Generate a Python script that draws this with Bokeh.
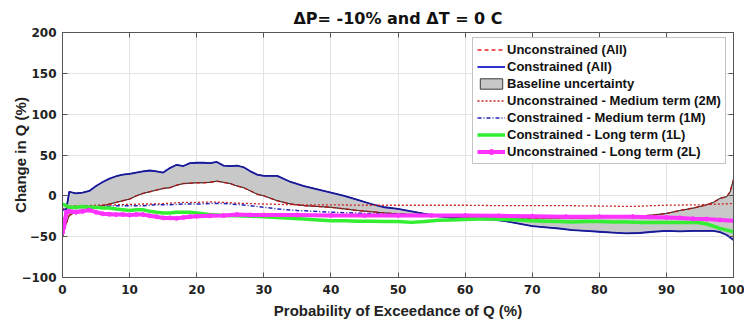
from bokeh.plotting import figure
from bokeh.models import Range1d, LinearAxis, FixedTicker, Legend, LegendItem
from bokeh.embed import file_html
from bokeh.resources import INLINE

# Probability of exceedance grid shared by the two "All" envelopes
x_all = [0, 0.5, 1, 2, 3, 4, 5, 6, 7, 8, 9, 10, 11, 12, 13, 14, 15, 16, 17, 18, 19,
         20, 21, 22, 23, 24, 25, 26, 27, 28, 29, 30, 32, 34, 36, 38, 40, 42, 44, 46,
         48, 50, 52, 54, 56, 58, 60, 62, 64, 66, 68, 70, 72, 74, 76, 78, 80, 82, 84,
         86, 88, 90, 92, 94, 96, 97, 98, 99, 99.5, 100]
constrained_all = [-48, -20, 5, 3, 4, 6, 12, 17, 21, 24, 26, 27, 28.5, 30, 31, 30, 28.5,
                   34, 38, 36.5, 40, 40.5, 40.5, 40, 41.5, 37, 36.5, 37, 35, 30, 26, 24.5,
                   24.5, 17, 12, 8, 4, 0, -5, -10, -14, -16, -19, -22, -25, -27, -28,
                   -28.5, -29, -31, -34, -37, -38.5, -40, -42, -43, -44, -45, -46, -45.5,
                   -44, -43, -43.5, -43, -43, -43, -44.5, -48, -51, -54]
unconstrained_all = [-50, -35, -24, -20, -17, -16, -14, -12, -10, -8, -6, -4, 0, 3, 5, 7,
                     9, 10, 13, 15, 15.5, 16, 16, 16.5, 18, 16.5, 15, 12, 10, 6, 2, 0, -6,
                     -10, -12, -13, -14, -16, -18, -19.5, -21, -22, -23, -24, -25, -25.5,
                     -26, -26, -26.5, -27, -27, -27, -27, -27, -27, -27, -26.5, -26, -25.5,
                     -25, -23.5, -21.5, -18, -15, -11, -8, -3, -1, 5, 20]

# Unconstrained - Medium term (2M)
x_2m = [0, 1, 2, 4, 6, 8, 10, 12, 14, 16, 18, 20, 22, 24, 26, 28, 30, 35, 40, 45, 50, 55,
        60, 65, 70, 75, 80, 85, 88, 90, 95, 98, 100]
unc_2m = [-16, -13, -12, -12, -11, -11, -10.5, -10, -10, -9, -8, -8, -7.5, -8, -9, -9.5,
          -10, -11, -11, -11.5, -11.5, -11.5, -11.5, -12, -12, -12, -12.5, -13, -12, -11.5,
          -11, -10, -9.5]

# Constrained - Medium term (1M)
x_1m = [0, 1, 2, 4, 6, 8, 10, 12, 14, 16, 18, 20, 22, 24, 26, 28, 30, 32, 35, 40, 45, 50,
        55, 60, 65, 70, 75, 80, 85, 90, 95, 100]
con_1m = [-18, -14, -14, -13, -13, -12, -12, -12, -11, -11, -10, -10, -9.5, -9.5, -10.5,
          -12, -14, -16, -18, -20, -21.5, -23, -24, -24.5, -25, -25, -25.5, -26, -26, -27,
          -28, -30]

# Constrained - Long term (1L)
x_1l = [0, 0.5, 1, 2, 3, 4, 5, 6, 7, 8, 9, 10, 11, 12, 13, 14, 15, 16, 17, 18, 19, 20, 21,
        22, 24, 26, 28, 30, 32, 34, 36, 38, 40, 42, 44, 46, 48, 50, 52, 54, 56, 58, 60, 62,
        64, 66, 68, 70, 72, 74, 76, 78, 80, 82, 84, 86, 88, 90, 92, 94, 95, 96, 97, 98, 99,
        100]
con_1l = [-10, -12, -14, -14, -13, -14, -14, -15, -15, -16, -17, -18, -17, -17, -19, -20,
          -21, -21, -20, -20, -20, -21, -22, -23, -24, -24.5, -25, -25.5, -26.5, -27.5,
          -28.5, -29.5, -30.5, -30.5, -31, -31, -31.5, -31.5, -32.5, -31.5, -30, -29.5, -29,
          -28.5, -28.5, -29, -29.5, -30.5, -31, -31.5, -32, -31.5, -31.5, -32, -32, -32.5,
          -32.5, -32.5, -32.5, -32.5, -33, -34.5, -37, -40, -42, -44]

# Unconstrained - Long term (2L)
x_2l = [0, 0.2, 0.4, 0.6, 1, 2, 3, 4, 5, 6, 7, 8, 9, 10, 11, 12, 13, 14, 15, 16, 17, 18,
        19, 20, 22, 24, 26, 28, 30, 35, 40, 45, 50, 55, 60, 65, 70, 75, 80, 85, 90, 92, 94,
        96, 98, 100]
unc_2l = [-45, -38, -28, -20, -19, -20, -19, -17.5, -20, -22, -22.5, -23, -23, -23.5, -23,
          -23, -24.5, -25.5, -27, -27, -27.5, -26.5, -25.5, -25, -24.5, -24, -23, -23.5,
          -23.5, -23.5, -24, -24, -24, -24, -24, -24.5, -25, -25.5, -25.5, -25.5, -26.5,
          -27, -28, -28.5, -29.5, -30.5]

x_ticks = [0, 10, 20, 30, 40, 50, 60, 70, 80, 90, 100]
y_ticks = [-100, -50, 0, 50, 100, 150, 200]

LABEL_FONT = "Liberation Sans"
TICK_FONT = "DejaVu Sans"

p = figure(width=744, height=325, output_backend="svg", toolbar_location=None,
           x_range=Range1d(0, 100), y_range=Range1d(-100, 200),
           min_border_left=62, min_border_right=11, min_border_top=32,
           min_border_bottom=48, title="ΔP= -10% and ΔT = 0 C")
p.title.align = "center"
p.title.text_font = TICK_FONT
p.title.text_font_size = "16px"
p.title.text_font_style = "bold"
p.title.text_color = "#111111"
p.outline_line_color = None
p.background_fill_color = "white"

for ax in (p.xaxis[0], p.yaxis[0]):
    ax.major_tick_in = 5
    ax.major_tick_out = 0
    ax.minor_tick_line_color = None
    ax.axis_line_color = "#555555"
    ax.major_tick_line_color = "#555555"
    ax.major_label_text_font = TICK_FONT
    ax.major_label_text_font_size = "12px"
    ax.major_label_text_font_style = "bold"
    ax.major_label_text_color = "#222222"
    ax.axis_label_text_font = LABEL_FONT
    ax.axis_label_text_font_size = "15px"
    ax.axis_label_text_font_style = "bold"
    ax.axis_label_text_color = "#222222"

p.xaxis.ticker = FixedTicker(ticks=x_ticks)
p.yaxis.ticker = FixedTicker(ticks=y_ticks)
p.xaxis.axis_label = "Probability of Exceedance of Q (%)"
p.yaxis.axis_label = "Change in Q (%)"
p.xaxis.major_label_standoff = 7
p.yaxis.major_label_standoff = 6
p.xaxis.axis_label_standoff = 5
p.yaxis.axis_label_standoff = -11

# box axes on top and right, ticks only
for side, ticks in (("above", x_ticks), ("right", y_ticks)):
    ax = LinearAxis(ticker=FixedTicker(ticks=ticks), major_tick_in=5, major_tick_out=0,
                    minor_tick_line_color=None, axis_line_color="#555555",
                    major_tick_line_color="#555555", major_label_text_font_size="0px",
                    major_label_standoff=0)
    p.add_layout(ax, side)

p.xgrid.ticker = FixedTicker(ticks=x_ticks)
p.ygrid.ticker = FixedTicker(ticks=y_ticks)
p.grid.grid_line_color = "#e3e3e3"
p.grid.grid_line_width = 1

# shaded envelope between the constrained and unconstrained runs
env_x = x_all + x_all[::-1]
env_y = constrained_all + unconstrained_all[::-1]
r_env = p.patch(env_x, env_y, fill_color="#c8c8c8", line_color="#3a3a3a", line_width=1)

r_unc = p.line(x_all, unconstrained_all, line_color="#ee2222", line_width=1.5,
               line_dash="4 3")
r_con = p.line(x_all, constrained_all, line_color="#1a1acc", line_width=1.8)
p.line(x_all, unconstrained_all, line_color="#402020", line_width=1, line_alpha=0.6)
p.line(x_all, constrained_all, line_color="#1c1c40", line_width=1, line_alpha=0.6)

r_2m = p.line(x_2m, unc_2m, line_color="#cc2222", line_width=1.3, line_dash="2 2")
r_1m = p.line(x_1m, con_1m, line_color="#2222bb", line_width=1.5, line_dash="4 2 1 2")
r_1l = p.line(x_1l, con_1l, line_color="#33ee33", line_width=3.5)
r_2l = p.line(x_2l, unc_2l, line_color="#ff33ff", line_width=4)
r_2l_pts = p.scatter(x_2l, unc_2l, size=4, color="#ff33ff")

legend = Legend(items=[
    LegendItem(label="Unconstrained (All)", renderers=[r_unc]),
    LegendItem(label="Constrained (All)", renderers=[r_con]),
    LegendItem(label="Baseline uncertainty", renderers=[r_env]),
    LegendItem(label="Unconstrained - Medium term (2M)", renderers=[r_2m]),
    LegendItem(label="Constrained - Medium term (1M)", renderers=[r_1m]),
    LegendItem(label="Constrained - Long term (1L)", renderers=[r_1l]),
    LegendItem(label="Unconstrained - Long term (2L)", renderers=[r_2l, r_2l_pts]),
], location=(410, 113))
legend.margin = 0
legend.padding = 4
legend.spacing = 2
legend.label_height = 13
legend.glyph_height = 13
legend.glyph_width = 28
legend.label_standoff = 2
legend.label_text_font = LABEL_FONT
legend.label_text_font_size = "13px"
legend.label_text_font_style = "bold"
legend.label_text_color = "#111111"
legend.border_line_color = "#888888"
legend.border_line_width = 1
legend.background_fill_alpha = 1
p.add_layout(legend, "center")

open("out.html", "w").write(file_html(p, INLINE))
